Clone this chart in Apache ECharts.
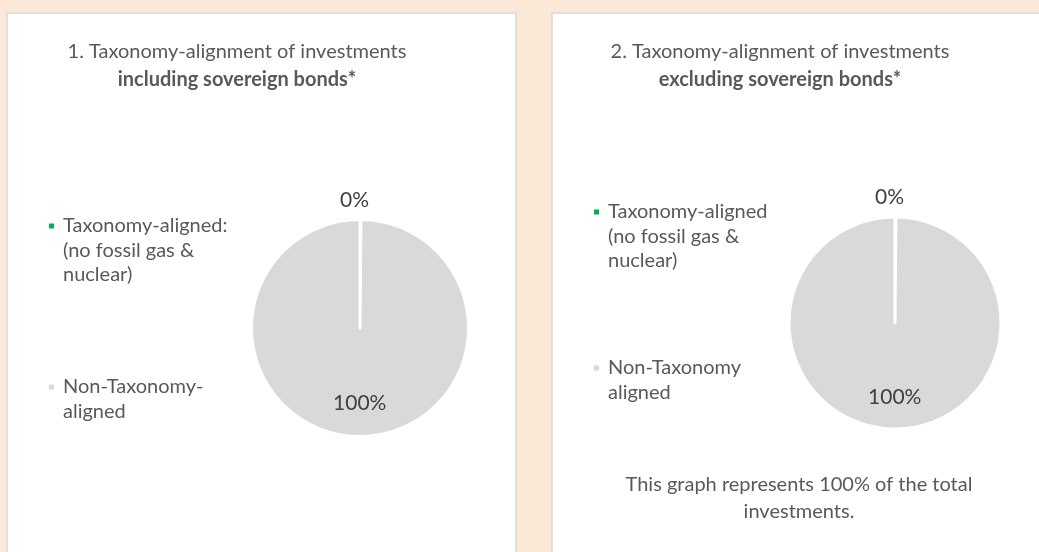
<!DOCTYPE html>
<html>
<head>
<meta charset="utf-8">
<title>Taxonomy-alignment of investments</title>
<script src="https://cdn.jsdelivr.net/npm/echarts@6/dist/echarts.min.js"></script>
<style>
  html, body { margin: 0; padding: 0; background: #FBE8D6; }
  #chart { width: 1039px; height: 552px; }
</style>
</head>
<body>
<div id="chart"></div>
<script>
// legend names differ slightly between the two panels
const namesIncl = ['Taxonomy-aligned:\n(no fossil gas &\nnuclear)', 'Non-Taxonomy-\naligned']
const namesExcl = ['Taxonomy-aligned\n(no fossil gas &\nnuclear)', 'Non-Taxonomy\naligned']
const valuesIncl = [0, 100]
const valuesExcl = [0, 100]
const sliceColors = ['#00B050', '#D9D9D9']
const titleLines = [
  ['1. Taxonomy-alignment of investments', 'including sovereign bonds*'],
  ['2. Taxonomy-alignment of investments', 'excluding sovereign bonds*']
]
const footnote = 'This graph represents 100% of the total\ninvestments.'

const FONT = 'Lato'
const TEXT = '#595959'

const chart = echarts.init(document.getElementById('chart'), null, { renderer: 'canvas' })

function pieData(names, values) {
  return names.map((n, i) => ({
    name: n,
    value: values[i],
    itemStyle: { color: sliceColors[i] },
    label: { position: i === 0 ? 'outside' : 'inside' }
  }))
}

function pieSeries(names, values, center, radius) {
  return {
    type: 'pie',
    center: center,
    radius: radius,
    startAngle: 90,
    clockwise: true,
    minAngle: 0.5,
    avoidLabelOverlap: false,
    silent: true,
    itemStyle: { borderColor: '#fff', borderWidth: 3, borderJoin: 'round' },
    label: {
      show: true,
      formatter: '{d}%',
      fontFamily: FONT,
      fontSize: 21,
      color: '#404040',
      distanceToLabelLine: 0
    },
    labelLine: { show: false, length: 19.5, length2: 0 },
    labelLayout: function (params) {
      if (params.dataIndex === 0) return { align: 'center', dx: -6 }
      return { dy: 18 }
    },
    data: pieData(names, values)
  }
}

// the marker sits beside the first line: pad each name with blank lines above
// so that its first line ends up in the vertical middle of the text block
function padName(name) {
  const extra = name.split('\n').length - 1
  return '\n'.repeat(extra) + name
}

function legendFor(names, left, top, gap) {
  return {
    orient: 'vertical',
    left: left,
    top: top,
    padding: 0,
    itemGap: gap,
    itemWidth: 7,
    itemHeight: 7,
    icon: 'rect',
    selectedMode: false,
    formatter: padName,
    textStyle: { fontFamily: FONT, fontSize: 20, lineHeight: 24.5, color: TEXT, padding: [0, 0, 0, 3] },
    data: names
  }
}

function titleFor(lines, x) {
  return {
    text: '{a|' + lines[0] + '}\n{b|' + lines[1] + '}',
    left: x,
    top: 38,
    padding: 0,
    textAlign: 'center',
    textVerticalAlign: 'top',
    textStyle: {
      fontWeight: 'normal',
      rich: {
        a: { fontFamily: FONT, fontSize: 20, lineHeight: 28, color: TEXT, fontWeight: 'normal' },
        b: { fontFamily: FONT, fontSize: 20, lineHeight: 28, color: TEXT, fontWeight: 'bold' }
      }
    }
  }
}

chart.setOption({
  backgroundColor: '#FBE8D6',
  animation: false,
  graphic: [
    { type: 'rect', z: -10, shape: { x: 7, y: 13, width: 509, height: 560 }, style: { fill: '#fff', stroke: '#D9D9D9', lineWidth: 1.5 } },
    { type: 'rect', z: -10, shape: { x: 552, y: 13, width: 520, height: 560 }, style: { fill: '#fff', stroke: '#D9D9D9', lineWidth: 1.5 } }
  ],
  title: [
    titleFor(titleLines[0], 237),
    titleFor(titleLines[1], 780),
    {
      text: footnote,
      left: 799,
      top: 471.5,
      padding: 0,
      textAlign: 'center',
      textVerticalAlign: 'top',
      textStyle: { fontFamily: FONT, fontSize: 20, lineHeight: 27, color: TEXT, fontWeight: 'normal' }
    }
  ],
  legend: [
    legendFor(namesIncl, 47, 164.75, 63),
    legendFor(namesExcl, 592, 150.75, 58)
  ],
  series: [
    pieSeries(namesIncl, valuesIncl, [360, 328], 108.5),
    pieSeries(namesExcl, valuesExcl, [895, 323], 106)
  ]
})
</script>
</body>
</html>
